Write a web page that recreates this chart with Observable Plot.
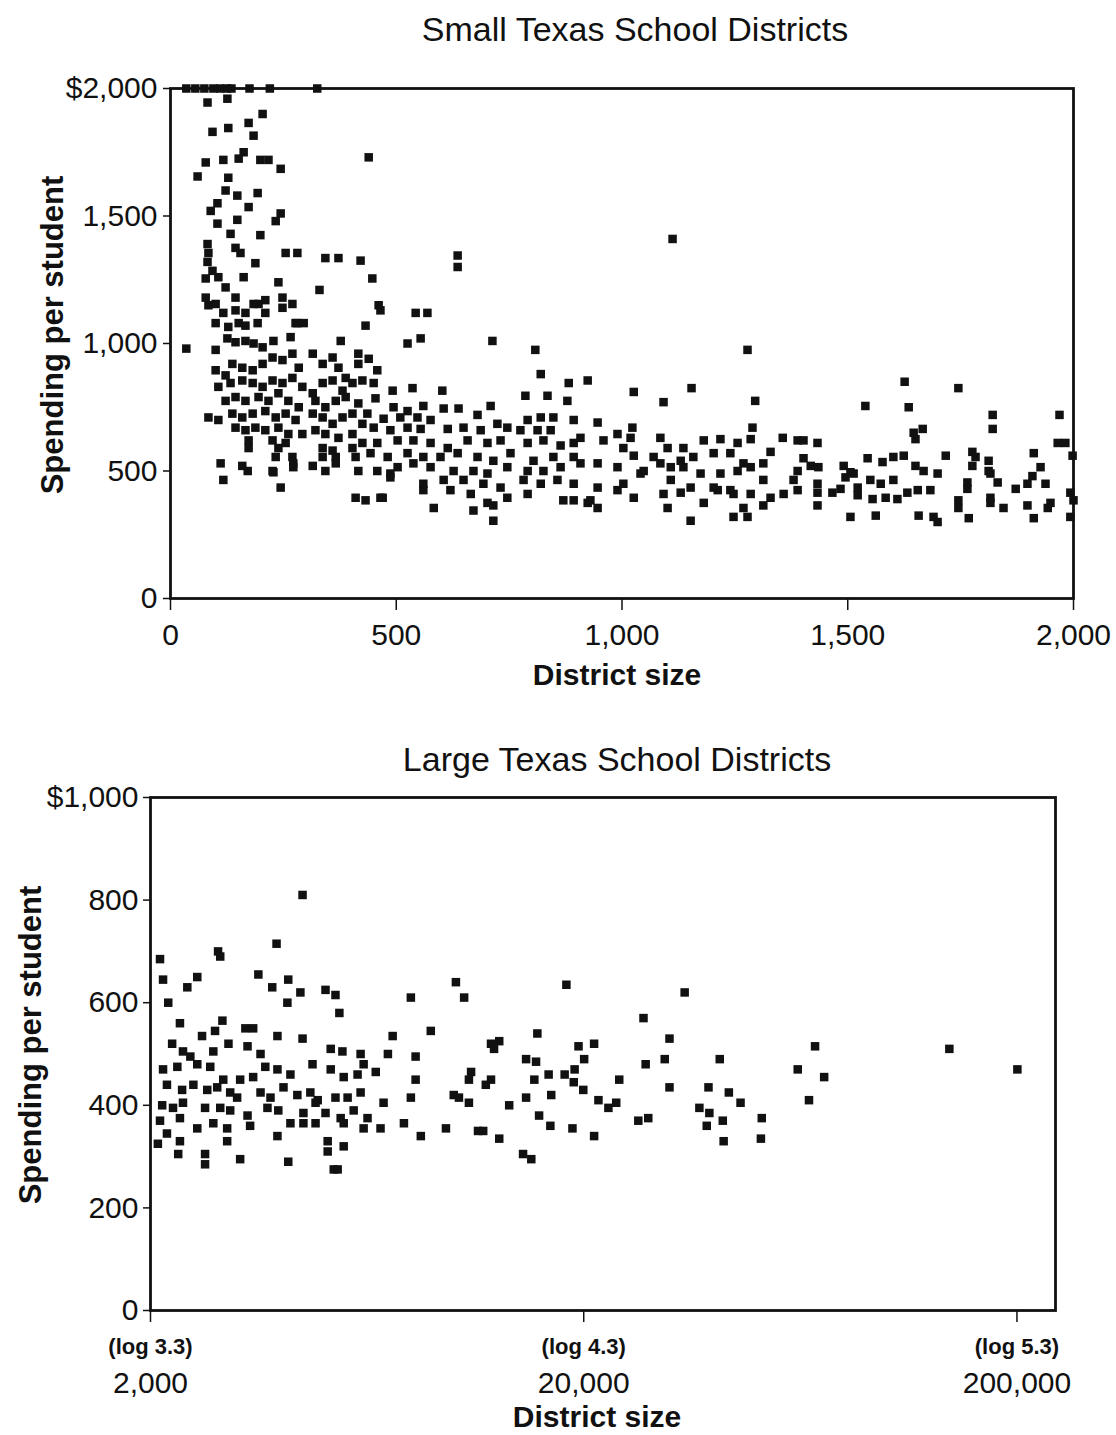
<!DOCTYPE html>
<html><head><meta charset="utf-8">
<script src="https://cdn.jsdelivr.net/npm/d3@7"></script>
<script src="https://cdn.jsdelivr.net/npm/@observablehq/plot@0.6"></script>
<style>
body{margin:0;background:#fff;}
#wrap{position:relative;width:1116px;height:1435px;font-family:"Liberation Sans",Arial,sans-serif;color:#111;overflow:hidden;}
.t{position:absolute;white-space:nowrap;line-height:1;}
.title{font-size:34px;transform:translateX(-50%);}
.xl{font-size:30px;font-weight:bold;transform:translateX(-50%);}
.yl{font-size:31px;font-weight:bold;transform:translate(-50%,-50%) rotate(-90deg);}
.chart{position:absolute;left:0;}
</style></head><body><div id="wrap"></div>
<script>
// ---------- Small Texas School Districts ----------
const sizeSmall = [
 35,55,75,95,110,125,135,175,220,325,
 82,126,204,93,128,173,184,162,78,117,151,199,217,244,60,128,122,148,193,104,89,173,244,233,104,148,133,199,82,144,84,155,255,281,82,188,93,106,162,78,122,239,248,144,78,100,195,210,330,
 439,343,372,421,636,636,447,461,465,543,569,432,713,525,554,377,281,35,1278,1112,1295,808,
 84,117,144,166,184,210,248,270,
 100,128,151,166,193,277,295,
 100,126,144,166,184,204,228,266,
 100,122,137,159,182,204,226,248,270,284,315,337,359,372,388,416,416,425,
 106,133,159,182,204,226,248,270,292,315,337,359,381,403,
 122,144,166,195,217,239,261,284,321,343,366,388,416,
 84,106,137,159,182,210,233,255,277,315,337,359,381,403,425,
 144,166,188,210,239,261,292,321,343,372,403,
 173,173,226,239,255,337,359,403,425,
 233,270,337,366,410,
 111,159,171,226,272,272,315,343,366,416,
 117,244,410,228,432,465,487,560,583,671,715,
 439,458,450,492,536,602,820,882,924,
 454,786,835,879,
 494,525,560,605,638,709,
 436,472,509,547,576,680,724,791,820,848,893,
 450,487,525,554,614,649,687,746,775,813,842,908,
 458,503,538,576,614,658,702,731,791,826,864,893,
 443,481,525,560,598,636,680,715,753,804,848,893,
 458,503,538,576,627,671,702,746,791,826,864,908,
 487,560,605,649,693,731,782,820,857,893,
 470,620,665,702,746,791,870,893,924,715,
 1026,1154,1092,
 946,1023,1289,1356,
 959,990,1019,1085,1136,1181,1218,1256,1285,1329,1389,
 1003,1026,1070,1101,1130,1158,1203,1240,1269,1313,
 946,990,1048,1085,1108,1136,1174,1218,1256,1285,1313,1389,
 946,1003,1041,1108,1152,1203,1240,1285,1380,
 930,990,1026,1092,1130,1181,1212,1247,1269,1329,1358,1389,
 946,1101,1152,1247,1278,1313,
 1626,1745,1539,1635,1821,1821,1969,
 1402,1433,1646,1666,1650,1965,1982,
 1402,1544,1577,1601,1624,1717,1776,1783,1812,1912,1998,
 1418,1435,1491,1506,1650,1668,1699,1776,1812,1927,1909,
 1433,1495,1513,1550,1573,1601,1765,1816,1832,1898,1938,
 1433,1433,1466,1484,1522,1522,1555,1584,1610,1632,1655,1683,1745,1745,1765,1816,1816,1845,1872,1898,1949,1993,2000,
 1506,1562,1657,1690,1699,1768,1912,1993,1943
];
const spendSmall = [
 2000,2000,2000,2000,2000,2000,2000,2000,2000,2000,
 1945,1960,1900,1830,1845,1865,1815,1750,1710,1720,1725,1720,1720,1685,1655,1650,1600,1580,1590,1550,1520,1535,1510,1480,1470,1485,1430,1425,1390,1375,1355,1355,1355,1355,1320,1315,1285,1260,1260,1255,1220,1240,1180,1180,1180,1155,1155,1170,1210,
 1730,1335,1335,1325,1345,1300,1255,1150,1130,1120,1120,1070,1010,1000,1020,1010,1080,980,975,1410,775,975,
 1150,1120,1130,1120,1155,1120,1140,1155,
 1080,1065,1080,1070,1080,1080,1080,
 975,1020,1005,1010,1000,985,1010,1025,
 895,875,920,905,895,920,945,935,960,905,960,920,945,905,865,960,920,855,
 830,845,855,845,830,855,845,865,830,805,845,855,815,845,
 775,790,775,790,775,805,775,750,775,750,775,790,765,
 710,700,725,710,725,735,710,725,700,725,710,685,710,725,685,
 670,660,670,660,670,645,645,660,645,630,645,
 620,590,620,590,610,590,580,590,610,
 555,555,555,555,555,
 530,520,500,500,530,515,520,500,530,500,
 465,435,395,495,385,395,490,425,355,345,305,
 940,895,845,815,825,815,880,845,855,
 785,795,795,775,
 750,735,755,745,745,755,
 725,705,710,710,700,720,685,700,710,710,700,
 670,660,670,665,665,670,660,670,660,660,660,630,
 610,620,620,610,590,620,610,620,610,620,600,610,
 570,555,570,555,555,570,555,540,570,540,555,555,
 500,515,530,515,500,500,490,515,500,500,515,530,
 475,450,465,465,450,435,465,450,465,450,
 395,425,410,375,395,410,385,385,375,365,
 810,825,770,
 690,670,670,630,
 620,645,630,630,590,620,625,610,625,575,620,
 590,560,555,590,540,555,570,570,530,530,
 530,515,500,530,515,515,490,490,500,515,465,500,
 435,450,490,465,435,435,425,410,465,
 385,425,395,410,415,375,425,410,355,395,410,425,
 355,355,305,320,320,365,
 850,825,755,750,720,665,720,
 620,610,650,665,625,610,610,
 550,550,535,555,560,560,575,555,540,570,560,
 520,515,520,495,520,500,490,520,500,515,480,
 450,475,490,465,450,465,455,490,455,450,450,
 415,365,415,430,435,405,390,395,390,415,425,425,385,355,430,395,375,355,430,365,375,415,385,
 320,325,325,320,300,315,315,320,355
];
const xTicksSmall = [0, 500, 1000, 1500, 2000];
const xLabelsSmall = ["0", "500", "1,000", "1,500", "2,000"];
const yTicksSmall = [0, 500, 1000, 1500, 2000];
const yLabelsSmall = ["0", "500", "1,000", "1,500", "$2,000"];

// ---------- Large Texas School Districts (x = log10 of district size) ----------
const logSizeLarge = [
 3.652,3.592,3.457,3.462,3.323,3.330,3.409,3.386,3.342,3.550,3.582,3.619,3.647,3.617,3.705,3.728,3.737,3.902,4.006,
 3.369,3.467,3.351,3.420,3.450,3.520,3.538,3.594,3.652,3.481,3.860,3.948,3.717,3.744,3.786,3.849,3.913,3.376,3.393,3.446,3.525,3.555,3.675,
 3.330,3.363,3.409,3.439,3.469,3.508,3.538,3.566,3.594,3.624,3.717,3.747,3.779,3.793,3.821,3.913,
 3.339,3.374,3.400,3.432,3.455,3.485,3.501,3.555,3.578,3.608,3.640,3.670,3.687,3.728,3.756,3.786,3.839,3.902,4.001,
 3.328,3.353,3.376,3.427,3.462,3.485,3.525,3.571,3.596,3.654,3.682,3.705,3.740,3.770,3.802,
 3.323,3.369,3.409,3.446,3.478,3.531,3.624,3.654,3.682,3.747,3.793,3.832,3.886,3.925,3.983,
 3.318,3.339,3.369,3.478,3.594,3.710,3.747,3.365,3.427,3.427,3.508,3.619,3.710,3.724,3.733,
 4.025,4.261,4.534,4.439,4.499,4.488,4.615,4.835,4.795,4.856,4.821,4.194,4.087,4.106,4.094,4.168,4.191,4.289,4.325,4.302,4.444,
 4.041,4.036,4.087,4.075,4.187,4.220,4.257,4.280,4.278,4.300,4.383,4.013,4.036,4.168,4.226,4.335,4.358,4.376,4.499,4.589,4.636,4.663,4.568,4.591,4.129,
 4.057,4.069,4.106,4.198,4.224,4.275,4.325,4.427,4.450,4.585,4.622,4.624,4.712,4.710,4.161,4.180,
 5.145,5.302
];
const spendLarge = [
 810,715,700,690,685,645,650,630,600,655,630,645,620,600,625,615,580,610,640,
 560,565,520,535,545,550,550,535,530,520,535,545,510,505,500,500,495,505,495,505,515,500,480,
 470,475,480,475,450,450,455,475,470,460,470,455,460,480,465,450,
 440,430,440,430,435,425,415,425,415,435,420,425,410,415,415,425,405,415,420,
 400,395,405,395,395,390,380,395,390,385,405,385,375,390,375,
 370,375,355,365,355,360,365,365,365,365,355,355,365,340,355,
 325,345,330,330,340,330,320,305,305,285,295,290,310,275,275,
 610,635,620,570,530,490,490,515,470,455,410,540,520,525,510,490,485,515,520,490,480,
 465,450,450,440,450,460,460,470,445,430,450,415,405,415,420,410,395,405,435,435,425,405,395,385,400,
 350,350,335,380,360,355,340,370,375,360,370,330,375,335,305,295,
 510,470
];
const xTicksLarge = [2000, 20000, 200000];
const xLogLabelsLarge = ["(log 3.3)", "(log 4.3)", "(log 5.3)"];
const xNumLabelsLarge = ["2,000", "20,000", "200,000"];
const yTicksLarge = [0, 200, 400, 600, 800, 1000];
const yLabelsLarge = ["0", "200", "400", "600", "800", "$1,000"];

const small = sizeSmall.map((s, i) => ({size: s, spend: spendSmall[i]}));
const large = logSizeLarge.map((s, i) => ({logSize: s, spend: spendLarge[i]}));

const FONT = '"Liberation Sans", Arial, sans-serif';
const INK = "#111";
const lab = (ticks, labels) => d => labels[ticks.findIndex(t => Math.abs(t - d) < 1e-6)];

const wrap = document.getElementById("wrap");
function addText(cls, txt, left, top) {
  const el = document.createElement("div");
  el.className = "t " + cls;
  el.textContent = txt;
  el.style.left = left + "px";
  el.style.top = top + "px";
  wrap.appendChild(el);
}

const chartTop = Plot.plot({
  width: 1116, height: 700,
  marginLeft: 170, marginRight: 43, marginTop: 88, marginBottom: 102,
  style: {fontFamily: FONT, color: INK, background: "transparent", overflow: "visible"},
  x: {domain: [0, 2000]},
  y: {domain: [0, 2000]},
  marks: [
    Plot.axisX({ticks: xTicksSmall, tickFormat: lab(xTicksSmall, xLabelsSmall), tickSize: 12, tickPadding: 13, fontSize: 30, strokeWidth: 1.5, label: null}),
    Plot.axisY({ticks: yTicksSmall, tickFormat: lab(yTicksSmall, yLabelsSmall), tickSize: 7, tickPadding: 6, fontSize: 30, strokeWidth: 1.5, label: null}),
    Plot.dot(small, {x: "size", y: "spend", symbol: "square", r: 4.8, fill: INK, stroke: "none"}),
    Plot.frame({stroke: INK, strokeWidth: 2.8})
  ]
});
chartTop.classList.add("chart");
chartTop.style.top = "0px";
wrap.appendChild(chartTop);

const logTicks = xTicksLarge.map(v => Math.log10(v));
const chartBottom = Plot.plot({
  width: 1116, height: 715,
  marginLeft: 150, marginRight: 61, marginTop: 77, marginBottom: 125,
  style: {fontFamily: FONT, color: INK, background: "transparent", overflow: "visible"},
  x: {domain: [Math.log10(2000), 5.39]},
  y: {domain: [0, 1000]},
  marks: [
    Plot.axisX({ticks: logTicks, tickFormat: lab(logTicks, xLogLabelsLarge), tickSize: 12, tickPadding: 16, fontSize: 22, fontWeight: "bold", strokeWidth: 1.5, label: null}),
    Plot.axisX({ticks: logTicks, tickFormat: lab(logTicks, xNumLabelsLarge), tickSize: 0, tickPadding: 61, fontSize: 30, label: null}),
    Plot.axisY({ticks: yTicksLarge, tickFormat: lab(yTicksLarge, yLabelsLarge), tickSize: 7, tickPadding: 5, fontSize: 30, strokeWidth: 1.5, label: null}),
    Plot.dot(large, {x: "logSize", y: "spend", symbol: "square", r: 4.8, fill: INK, stroke: "none"}),
    Plot.frame({stroke: INK, strokeWidth: 2.8})
  ]
});
chartBottom.classList.add("chart");
chartBottom.style.top = "720px";
wrap.appendChild(chartBottom);

addText("title", "Small Texas School Districts", 635, 12);
addText("xl", "District size", 617, 660);
addText("yl", "Spending per student", 52, 335);
addText("title", "Large Texas School Districts", 617, 742);
addText("xl", "District size", 597, 1402);
addText("yl", "Spending per student", 30, 1045);
</script>
</body></html>
